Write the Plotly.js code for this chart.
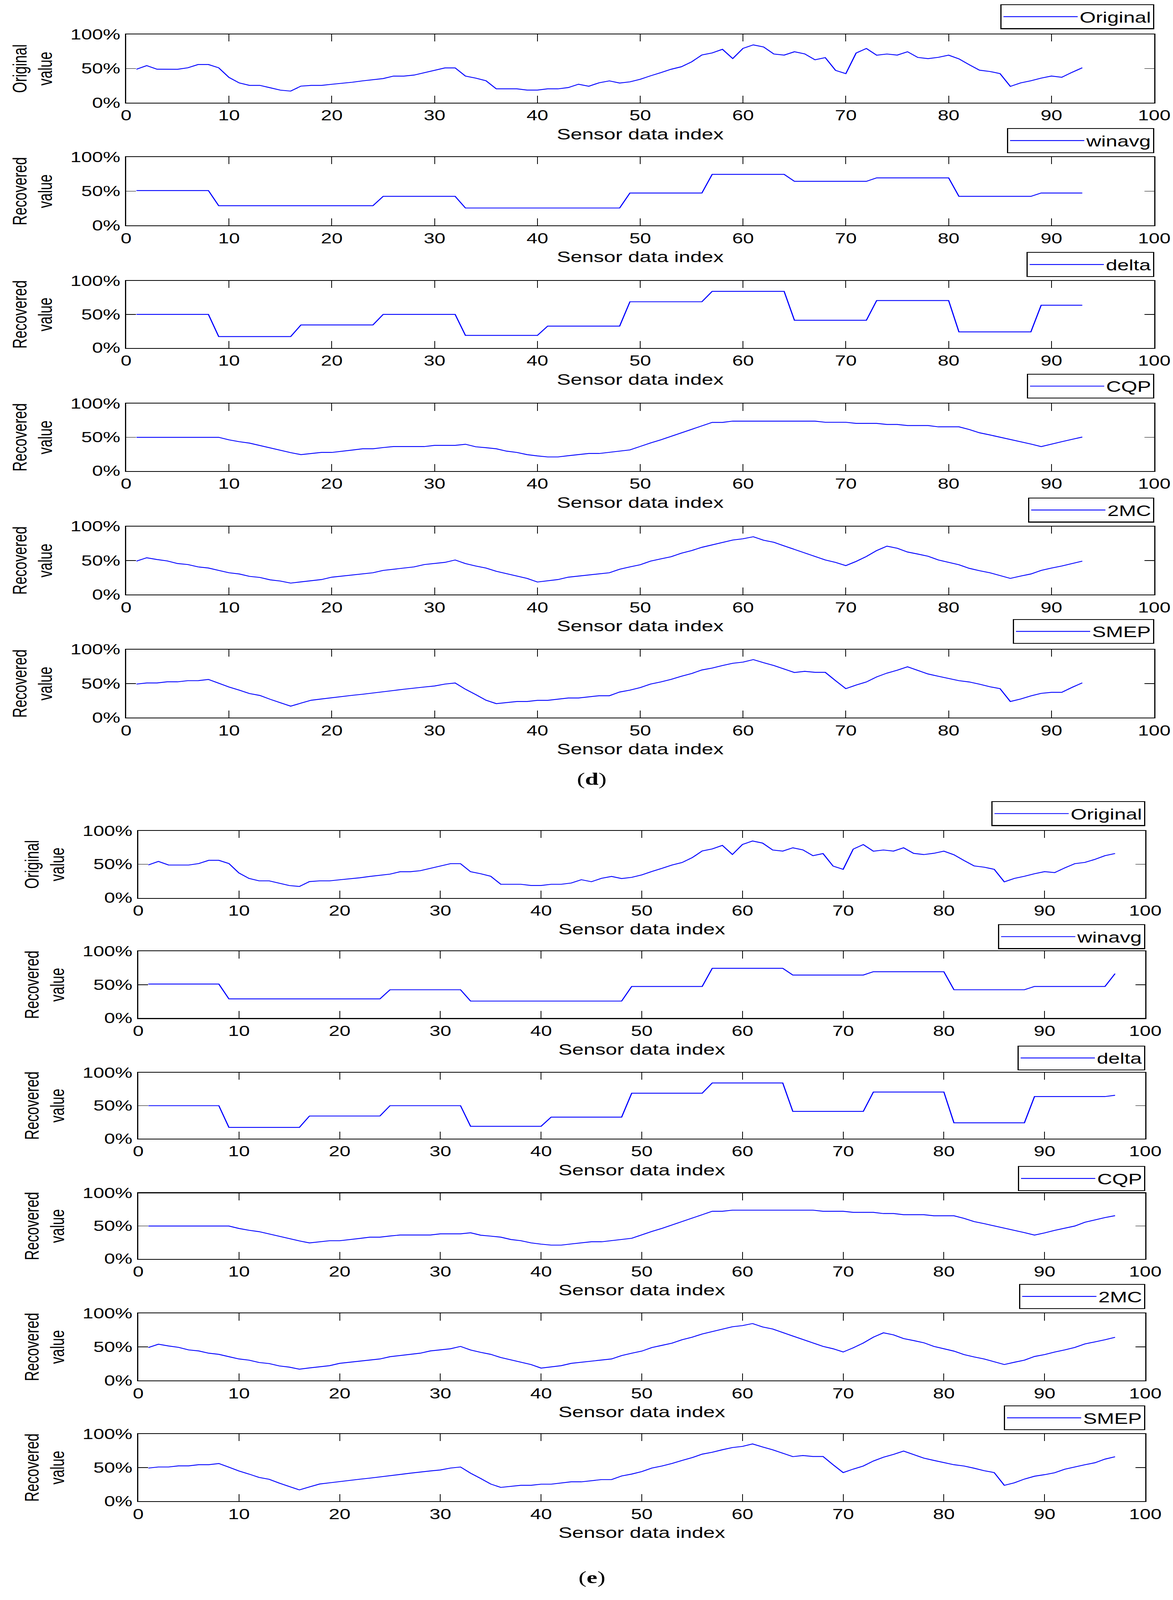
<!DOCTYPE html>
<html><head><meta charset="utf-8">
<script src="https://cdn.plot.ly/plotly-3.0.1.min.js"></script>
<style>
html,body{margin:0;padding:0;background:#fff;overflow:hidden}
#frame{position:relative;overflow:hidden}
#chart{width:3003px;height:5656px;transform-origin:0 0}
</style>
</head><body>
<div id="frame"><div id="chart"></div></div>
<script>
// ---------- texts ----------
const seriesNames = ["Original", "winavg", "delta", "CQP", "2MC", "SMEP"];
const yTitles = ["Original<br>value", "Recovered<br>value", "Recovered<br>value", "Recovered<br>value", "Recovered<br>value", "Recovered<br>value"];
const xTitle = "Sensor data index";
const xTickVals = [0, 10, 20, 30, 40, 50, 60, 70, 80, 90, 100];
const yTickVals = [0, 0.5, 1];
const yTickText = ["0%", "50%", "100%"];
const panelLabels = ["(<b>d</b>)", "(<b>e</b>)"];

// ---------- sensor indices ----------
const idxD = Array.from({length: 93}, (_, i) => i + 1);
const idxE = Array.from({length: 97}, (_, i) => i + 1);

// ---------- figure (d) values ----------
const originalD = [
 0.491,0.544,0.491,0.491,0.490,0.512,0.560,0.560,0.512,0.371,
 0.290,0.254,0.254,0.219,0.184,0.170,0.243,0.254,0.254,0.270,
 0.285,0.300,0.320,0.336,0.354,0.390,0.390,0.405,0.440,0.476,
 0.510,0.510,0.390,0.360,0.322,0.203,0.203,0.203,0.185,0.185,
 0.203,0.203,0.222,0.271,0.241,0.292,0.320,0.288,0.306,0.343,
 0.394,0.440,0.490,0.527,0.599,0.700,0.730,0.783,0.647,0.797,
 0.848,0.817,0.714,0.698,0.747,0.716,0.629,0.661,0.474,0.426,
 0.728,0.795,0.696,0.714,0.698,0.747,0.664,0.646,0.665,0.697,
 0.643,0.557,0.477,0.458,0.426,0.239,0.290,0.322,0.360,0.391,
 0.373,0.445,0.512];
const winavgD = [
 0.51,0.51,0.51,0.51,0.51,0.51,0.51,0.51,
 0.288,0.288,0.288,0.288,0.288,0.288,0.288,0.288,
 0.288,0.288,0.288,0.288,0.288,0.288,0.288,0.288,
 0.425,0.425,0.425,0.425,0.425,0.425,0.425,0.425,
 0.255,0.255,0.255,0.255,0.255,0.255,0.255,0.255,
 0.255,0.255,0.255,0.255,0.255,0.255,0.255,0.255,
 0.474,0.474,0.474,0.474,0.474,0.474,0.474,0.474,
 0.746,0.746,0.746,0.746,0.746,0.746,0.746,0.746,
 0.645,0.645,0.645,0.645,0.645,0.645,0.645,0.645,
 0.695,0.695,0.695,0.695,0.695,0.695,0.695,0.695,
 0.425,0.425,0.425,0.425,0.425,0.425,0.425,0.425,
 0.474,0.474,0.474,0.474,0.474];
const deltaD = [
 0.50,0.50,0.50,0.50,0.50,0.50,0.50,0.50,
 0.17,0.17,0.17,0.17,0.17,0.17,0.17,0.17,
 0.343,0.343,0.343,0.343,0.343,0.343,0.343,0.343,
 0.50,0.50,0.50,0.50,0.50,0.50,0.50,0.50,
 0.187,0.187,0.187,0.187,0.187,0.187,0.187,0.187,
 0.326,0.326,0.326,0.326,0.326,0.326,0.326,0.326,
 0.689,0.689,0.689,0.689,0.689,0.689,0.689,0.689,
 0.844,0.844,0.844,0.844,0.844,0.844,0.844,0.844,
 0.413,0.413,0.413,0.413,0.413,0.413,0.413,0.413,
 0.707,0.707,0.707,0.707,0.707,0.707,0.707,0.707,
 0.24,0.24,0.24,0.24,0.24,0.24,0.24,0.24,
 0.637,0.637,0.637,0.637,0.637];
const cqpD = [
 0.50,0.50,0.50,0.50,0.50,0.50,0.50,0.50,0.50,0.463,
 0.435,0.414,0.379,0.344,0.309,0.273,0.243,0.260,0.276,0.276,
 0.292,0.311,0.330,0.330,0.348,0.363,0.363,0.363,0.363,0.381,
 0.381,0.381,0.397,0.360,0.346,0.330,0.295,0.276,0.243,0.224,
 0.209,0.209,0.227,0.244,0.260,0.260,0.278,0.295,0.313,0.365,
 0.417,0.463,0.515,0.568,0.620,0.673,0.722,0.722,0.741,0.741,
 0.741,0.741,0.741,0.741,0.741,0.741,0.741,0.724,0.724,0.724,
 0.707,0.707,0.707,0.691,0.691,0.675,0.675,0.675,0.656,0.656,
 0.656,0.617,0.568,0.536,0.502,0.466,0.431,0.400,0.362,0.400,
 0.435,0.470,0.504];
const mc2D = [
 0.491,0.541,0.515,0.494,0.456,0.441,0.407,0.390,0.355,0.321,
 0.303,0.268,0.252,0.217,0.199,0.169,0.187,0.203,0.221,0.256,
 0.272,0.290,0.307,0.321,0.355,0.372,0.390,0.407,0.441,0.458,
 0.473,0.508,0.455,0.420,0.390,0.342,0.307,0.272,0.238,0.185,
 0.203,0.221,0.256,0.272,0.290,0.307,0.321,0.372,0.407,0.438,
 0.491,0.524,0.556,0.607,0.646,0.694,0.729,0.763,0.801,0.819,
 0.849,0.798,0.768,0.715,0.663,0.611,0.559,0.508,0.473,0.425,
 0.487,0.559,0.646,0.711,0.680,0.625,0.595,0.563,0.508,0.473,
 0.438,0.386,0.351,0.321,0.279,0.238,0.272,0.303,0.355,0.390,
 0.420,0.455,0.491];
const smepD = [
 0.493,0.509,0.509,0.526,0.526,0.543,0.543,0.561,0.506,0.450,
 0.404,0.354,0.326,0.270,0.219,0.169,0.213,0.256,0.274,0.293,
 0.309,0.328,0.344,0.361,0.380,0.398,0.417,0.435,0.450,0.465,
 0.493,0.509,0.417,0.339,0.256,0.206,0.222,0.237,0.237,0.254,
 0.254,0.270,0.289,0.289,0.306,0.322,0.322,0.376,0.404,0.441,
 0.493,0.524,0.561,0.607,0.648,0.700,0.728,0.765,0.798,0.815,
 0.852,0.806,0.765,0.713,0.663,0.680,0.665,0.665,0.543,0.426,
 0.478,0.524,0.598,0.654,0.696,0.746,0.694,0.641,0.607,0.574,
 0.543,0.524,0.491,0.454,0.426,0.237,0.274,0.320,0.357,0.372,
 0.372,0.444,0.511];

// ---------- figure (e) values ----------
const originalE = [
 0.491,0.544,0.491,0.491,0.490,0.512,0.560,0.560,0.512,0.371,
 0.290,0.254,0.254,0.219,0.184,0.170,0.243,0.254,0.254,0.270,
 0.285,0.300,0.320,0.336,0.354,0.390,0.390,0.405,0.440,0.476,
 0.510,0.510,0.390,0.360,0.322,0.203,0.203,0.203,0.185,0.185,
 0.203,0.203,0.222,0.271,0.241,0.292,0.320,0.288,0.306,0.343,
 0.394,0.440,0.490,0.527,0.599,0.700,0.730,0.783,0.647,0.797,
 0.848,0.817,0.714,0.698,0.747,0.716,0.629,0.661,0.474,0.426,
 0.728,0.795,0.696,0.714,0.698,0.747,0.664,0.646,0.665,0.697,
 0.643,0.557,0.477,0.458,0.426,0.239,0.290,0.322,0.360,0.391,
 0.377,0.447,0.510,0.529,0.574,0.630,0.662];
const winavgE = [
 0.51,0.51,0.51,0.51,0.51,0.51,0.51,0.51,
 0.288,0.288,0.288,0.288,0.288,0.288,0.288,0.288,
 0.288,0.288,0.288,0.288,0.288,0.288,0.288,0.288,
 0.425,0.425,0.425,0.425,0.425,0.425,0.425,0.425,
 0.255,0.255,0.255,0.255,0.255,0.255,0.255,0.255,
 0.255,0.255,0.255,0.255,0.255,0.255,0.255,0.255,
 0.474,0.474,0.474,0.474,0.474,0.474,0.474,0.474,
 0.746,0.746,0.746,0.746,0.746,0.746,0.746,0.746,
 0.645,0.645,0.645,0.645,0.645,0.645,0.645,0.645,
 0.695,0.695,0.695,0.695,0.695,0.695,0.695,0.695,
 0.425,0.425,0.425,0.425,0.425,0.425,0.425,0.425,
 0.474,0.474,0.474,0.474,0.474,0.474,0.474,0.474,
 0.666];
const deltaE = [
 0.50,0.50,0.50,0.50,0.50,0.50,0.50,0.50,
 0.17,0.17,0.17,0.17,0.17,0.17,0.17,0.17,
 0.343,0.343,0.343,0.343,0.343,0.343,0.343,0.343,
 0.50,0.50,0.50,0.50,0.50,0.50,0.50,0.50,
 0.187,0.187,0.187,0.187,0.187,0.187,0.187,0.187,
 0.326,0.326,0.326,0.326,0.326,0.326,0.326,0.326,
 0.689,0.689,0.689,0.689,0.689,0.689,0.689,0.689,
 0.844,0.844,0.844,0.844,0.844,0.844,0.844,0.844,
 0.413,0.413,0.413,0.413,0.413,0.413,0.413,0.413,
 0.707,0.707,0.707,0.707,0.707,0.707,0.707,0.707,
 0.24,0.24,0.24,0.24,0.24,0.24,0.24,0.24,
 0.638,0.638,0.638,0.638,0.638,0.638,0.638,0.638,
 0.658];
const cqpE = [
 0.50,0.50,0.50,0.50,0.50,0.50,0.50,0.50,0.50,0.463,
 0.435,0.414,0.379,0.344,0.309,0.273,0.243,0.260,0.276,0.276,
 0.292,0.311,0.330,0.330,0.348,0.363,0.363,0.363,0.363,0.381,
 0.381,0.381,0.397,0.360,0.346,0.330,0.295,0.276,0.243,0.224,
 0.209,0.209,0.227,0.244,0.260,0.260,0.278,0.295,0.313,0.365,
 0.417,0.463,0.515,0.568,0.620,0.673,0.725,0.725,0.742,0.742,
 0.742,0.742,0.742,0.742,0.742,0.742,0.742,0.725,0.725,0.725,
 0.708,0.708,0.708,0.690,0.690,0.673,0.673,0.673,0.656,0.656,
 0.656,0.617,0.568,0.536,0.502,0.466,0.431,0.400,0.362,0.395,
 0.434,0.467,0.500,0.557,0.593,0.629,0.658];
const mc2E = [
 0.491,0.541,0.515,0.494,0.456,0.441,0.407,0.390,0.355,0.321,
 0.303,0.268,0.252,0.217,0.199,0.169,0.187,0.203,0.221,0.256,
 0.272,0.290,0.307,0.321,0.355,0.372,0.390,0.407,0.441,0.458,
 0.473,0.508,0.455,0.420,0.390,0.342,0.307,0.272,0.238,0.185,
 0.203,0.221,0.256,0.272,0.290,0.307,0.321,0.372,0.407,0.438,
 0.491,0.524,0.556,0.607,0.646,0.694,0.729,0.763,0.801,0.819,
 0.849,0.798,0.768,0.715,0.663,0.611,0.559,0.508,0.473,0.425,
 0.487,0.559,0.646,0.711,0.680,0.625,0.595,0.563,0.508,0.473,
 0.438,0.386,0.351,0.321,0.279,0.238,0.272,0.303,0.358,0.386,
 0.424,0.456,0.492,0.545,0.576,0.608,0.644];
const smepE = [
 0.493,0.509,0.509,0.526,0.526,0.543,0.543,0.561,0.506,0.450,
 0.404,0.354,0.326,0.270,0.219,0.169,0.213,0.256,0.274,0.293,
 0.309,0.328,0.344,0.361,0.380,0.398,0.417,0.435,0.450,0.465,
 0.493,0.509,0.417,0.339,0.256,0.206,0.222,0.237,0.237,0.254,
 0.254,0.270,0.289,0.289,0.306,0.322,0.322,0.376,0.404,0.441,
 0.493,0.524,0.561,0.607,0.648,0.700,0.728,0.765,0.798,0.815,
 0.852,0.806,0.765,0.713,0.663,0.680,0.665,0.665,0.543,0.426,
 0.478,0.524,0.598,0.654,0.696,0.746,0.694,0.641,0.607,0.574,
 0.543,0.524,0.491,0.454,0.426,0.237,0.274,0.330,0.372,0.395,
 0.424,0.476,0.511,0.543,0.572,0.626,0.661];

const groupSeries = [
  [originalD, winavgD, deltaD, cqpD, mc2D, smepD],
  [originalE, winavgE, deltaE, cqpE, mc2E, smepE]
];
const groupIdx = [idxD, idxE];

// ---------- layout geometry (pixels of the 3003 x 5656 page) ----------
const W = 3003, H = 5656;
const FONT = "Liberation Sans, Arial, sans-serif";
const GEO = [
  { xl: 323, xr: 2955,
    rows: [[122,363],[555,797],[993,1230],[1427,1665],[1861,2102],[2296,2537]],
    legTop: [15,453,891,1321,1759,2188], label: [1515, 2753] },
  { xl: 354, xr: 2932,
    rows: [[2937,3174],[3363,3599],[3792,4025],[4218,4450],[4643,4880],[5069,5307]],
    legTop: [2832,3267,3696,4122,4539,4968], label: [1515, 5575] }
];

// fit the full 3003 x 5656 figure into whatever viewport the browser really has
const sx = Math.min(1, (window.innerWidth || W) / W);
const sy = Math.min(1, (window.innerHeight || H) / H);
const frame = document.getElementById("frame");
frame.style.width = Math.floor(W * sx) + "px";
frame.style.height = Math.floor(H * sy) + "px";
document.getElementById("chart").style.transform = "scale(" + sx + "," + sy + ")";

const traces = [];
const layout = {
  width: W, height: H,
  margin: {l: 0, r: 0, t: 0, b: 0},
  paper_bgcolor: "#ffffff", plot_bgcolor: "#ffffff",
  font: {family: FONT, color: "#000"},
  annotations: []
};

let n = 0;
for (let g = 0; g < 2; g++) {
  const geo = GEO[g];
  for (let r = 0; r < 6; r++) {
    n++;
    const sfx = n === 1 ? "" : String(n);
    const legKey = "legend" + sfx;
    traces.push({
      type: "scatter", mode: "lines",
      x: groupIdx[g], y: groupSeries[g][r],
      name: seriesNames[r],
      xaxis: "x" + sfx, yaxis: "y" + sfx,
      legend: legKey, showlegend: true,
      line: {color: "#0000ff", width: 3}
    });
    const [top, bot] = geo.rows[r];
    layout["xaxis" + sfx] = {
      domain: [geo.xl / W, geo.xr / W], anchor: "y" + sfx,
      range: [0, 100], tickvals: xTickVals, ticktext: xTickVals.map(String),
      ticks: "inside", ticklen: 25, tickwidth: 2, tickcolor: "#000",
      showline: true, linewidth: 3, linecolor: "#000", mirror: "ticks",
      showgrid: false, zeroline: false, fixedrange: true,
      tickfont: {family: FONT, size: 50, color: "#000"},
      ticklabelstandoff: 0,
      title: {text: xTitle, font: {family: FONT, size: 53, color: "#000"}, standoff: 20}
    };
    layout["yaxis" + sfx] = {
      domain: [1 - bot / H, 1 - top / H], anchor: "x" + sfx,
      range: [0, 1], tickvals: yTickVals, ticktext: yTickText,
      ticks: "inside", ticklen: 25, tickwidth: 2, tickcolor: "#000",
      showline: true, linewidth: 3, linecolor: "#000", mirror: "ticks",
      showgrid: false, zeroline: false, fixedrange: true,
      tickfont: {family: FONT, size: 50, color: "#000"},
      ticklabelstandoff: 2,
      title: {text: yTitles[r], font: {family: FONT, size: 50, color: "#000"}, standoff: 31}
    };
    layout[legKey] = {
      x: geo.xr / W, xanchor: "right",
      y: 1 - geo.legTop[r] / H, yanchor: "top",
      bgcolor: "#ffffff", bordercolor: "#000", borderwidth: 3,
      itemwidth: 190,
      font: {family: FONT, size: 53, color: "#000"}
    };
  }
  layout.annotations.push({
    xref: "paper", yref: "paper",
    x: geo.label[0] / W, y: 1 - geo.label[1] / H,
    xanchor: "center", yanchor: "middle", showarrow: false,
    text: panelLabels[g],
    font: {family: "Liberation Serif, DejaVu Serif, serif", size: 62, color: "#000"}
  });
}

Plotly.newPlot("chart", traces, layout, {staticPlot: true, displayModeBar: false});
</script>
</body></html>
